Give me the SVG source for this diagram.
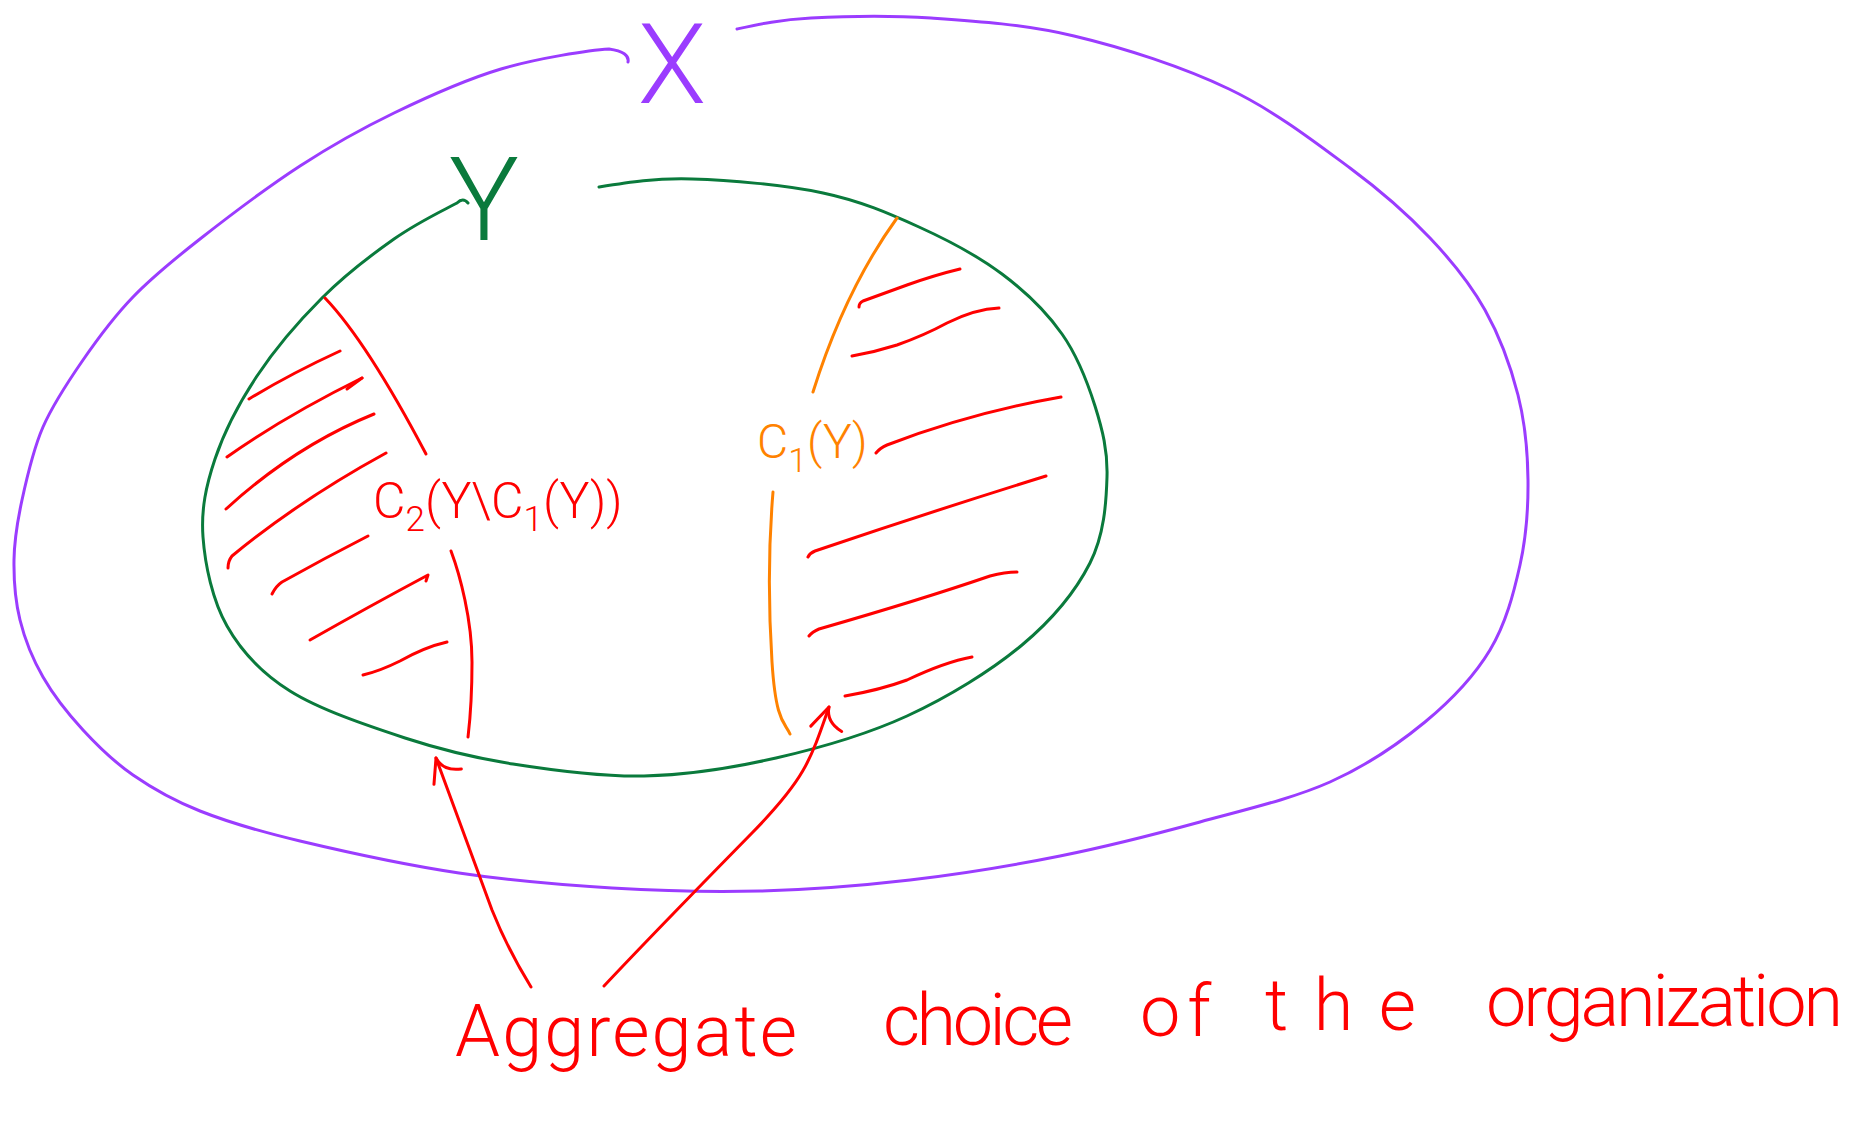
<svg xmlns="http://www.w3.org/2000/svg" width="1871" height="1124" viewBox="0 0 1871 1124">
<style>
.s{fill:none;stroke-width:3;stroke-linecap:round;stroke-linejoin:round}
.purple{stroke:#9b3cff}
.green{stroke:#0a7a3c}
.red{stroke:#ff0000}
.orange{stroke:#ff8200}
.t{font-family:Roboto,"Open Sans","Liberation Sans",sans-serif;font-weight:300}
</style>
<defs>
<marker id="ah" markerUnits="userSpaceOnUse" orient="auto" viewBox="-30 -30 60 60" markerWidth="60" markerHeight="60" refX="0" refY="0" overflow="visible">
<path d="M-24,-11 L0,0 Q-15,2 -19,20" fill="none" stroke="#ff0000" stroke-width="3" stroke-linecap="round" stroke-linejoin="round"/>
</marker>
</defs>
<rect width="1871" height="1124" fill="#ffffff"/>

<g id="node-X">
<path class="s purple" d="M628,62 Q630,52 609,49 C590,50 536.8,58.3 501,69 S427.5,96.8 394,113 S332.3,145 300,166 S227.8,217.2 200,239 S152.5,276.8 133,297 S98,338.3 83,360 S53.2,403.7 43,427 S26.8,477.8 22,500 S14.3,540 14,560 S15.2,600.5 20,620 S32.5,658.7 43,677 S68,713.7 83,730 S113.5,761.5 133,775 S172.2,800 200,811 S256.8,830.7 300,841 S407,865.2 459,873 S561.8,885 612,888 S710.3,892.3 760,891 S860,885.8 910,880 S1011.7,865.7 1060,856 S1155,834.3 1200,822 S1292.5,798.7 1330,782 S1398.3,744 1425,722 S1474.2,676.2 1490,650 S1513.7,593.3 1520,565 S1528.3,508.3 1528,480 S1525.2,423.3 1518,395 S1499.7,336.2 1485,310 S1452.5,261.7 1430,238 S1383.5,192.8 1350,168 S1275,111 1229,89 S1123.7,47.8 1074,36 S974.8,21 931,18 S843.3,16.2 811,18 S760,24 737,29"/>
<text class="t" x="672" y="103" font-size="112" fill="#9b3cff" text-anchor="middle">X</text>
</g>

<g id="node-Y">
<path class="s green" d="M468,203 Q463,197 457,203 C436,214 416.5,223.2 394,239 S344.8,275.2 322,298 S274.8,349.2 257,376 S224,432.2 215,459 S201,509.2 203,537 S212.5,600.3 227,626 S260.3,672.3 290,691 S367.8,725.8 405,738 S473.2,757.7 513,764 S600.2,777 644,776 S732.2,768 776,758 S866,734.8 907,716 S991.5,670.5 1022,645 S1075.8,591 1090,563 S1106.2,503.2 1107,477 S1102.5,429.8 1095,406 S1077.5,356 1062,334 S1025.8,291.8 1002,274 S948.8,240.5 919,227 S860.8,201 823,193 S729.3,180 692,179 S630,182 599,187"/>
<text class="t" x="484" y="240" font-size="117" fill="#0a7a3c" text-anchor="middle">Y</text>
</g>

<g id="node-C2">
<path class="s red" d="M325,298 Q367,342 426,454"/>
<path class="s red" d="M249,399 Q290,374 340,351"/>
<path class="s red" d="M227,457 Q285,416 362,378"/>
<path class="s red" d="M347,389 L362,378"/>
<path class="s red" d="M226,509 Q295,446 374,414"/>
<path class="s red" d="M228,568 Q228,561 232,556 Q300,500 386,453"/>
<path class="s red" d="M272,594 Q276,586 282,582 Q325,558 368,536"/>
<path class="s red" d="M310,640 Q370,606 428,575 L426,581"/>
<path class="s red" d="M363,675 Q380,671 400,661 Q425,647 447,642"/>
<text class="t" x="373" y="518" font-size="50" fill="#ff0000">C<tspan font-size="35" dy="13">2</tspan><tspan dy="-13">(Y\C</tspan><tspan font-size="35" dy="13">1</tspan><tspan dy="-13">(Y))</tspan></text>
</g>

<g id="node-C1">
<path class="s orange" d="M897,218 Q845,290 813,392"/>
<path class="s red" d="M859,307 Q859,303 863,301 L907,285 Q935,275 960,269"/>
<path class="s red" d="M852,356 Q875,352 897,345 Q925,335 947,323 Q975,309 999,308"/>
<path class="s red" d="M876,453 Q880,448 887,445 Q970,413 1061,397"/>
<path class="s red" d="M808,557 Q810,553 815,551 Q930,512 1046,476"/>
<path class="s red" d="M809,636 Q812,632 819,629 Q920,600 990,576 Q1005,572 1017,572"/>
<path class="s red" d="M845,696 Q880,690 907,680 Q945,662 972,657"/>
<text class="t" x="757" y="458" font-size="48" fill="#ff8200">C<tspan font-size="34" dy="14">1</tspan><tspan dy="-14">(Y)</tspan></text>
</g>

<g id="label-aggregate" class="t" fill="#ff0000" font-size="72">
<text x="455" y="1056" textLength="342" lengthAdjust="spacing">Aggregate</text>
<text x="883" y="1045" textLength="190" lengthAdjust="spacing">choice</text>
<text x="1140" y="1036" textLength="71" lengthAdjust="spacing">of</text>
<text x="1265" y="1030" textLength="151" lengthAdjust="spacing">the</text>
<text x="1486" y="1026" textLength="357" lengthAdjust="spacing">organization</text>
</g>

<g id="connectors">
<path class="s red" d="M451,551 C460,575 472,620 472,662 S470,720 468,737"/>
<path class="s orange" d="M773,492 C769,540 768,600 772,662 S785,722 790,734"/>
<path class="s red" d="M531,987 Q508,950 492,910 L436,758" marker-end="url(#ah)"/>
<path class="s red" d="M604,986 C650,937 700,886 752,833 S810,762 829,707" marker-end="url(#ah)"/>
</g>
</svg>
